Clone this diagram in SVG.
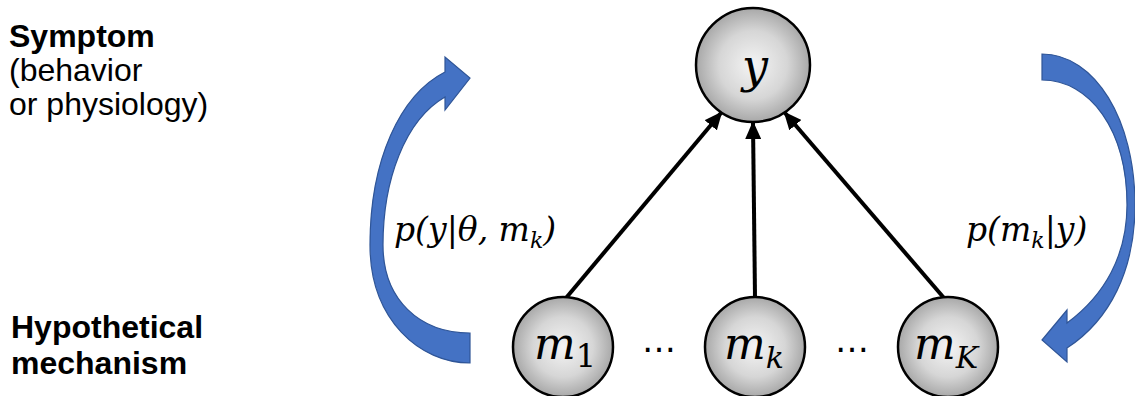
<svg xmlns="http://www.w3.org/2000/svg" width="1135" height="396" viewBox="0 0 1135 396">
<style>
.lbl{font-family:"Liberation Sans",Arial,sans-serif;font-size:32px;fill:#000}
.b{font-weight:bold}
.math{font-family:"DejaVu Serif","Liberation Serif",serif;font-style:italic;fill:#000}
.node{fill:url(#g);stroke:#000;stroke-width:2.5}
.edge{stroke:#000;stroke-width:4;fill:none;marker-end:url(#ah)}
.curve{fill:#4472C4;stroke:#2F5597;stroke-width:1.2}
.dots{font-family:"DejaVu Sans",sans-serif;font-size:34px;fill:#000}
</style>
<defs>
<radialGradient id="g" cx="50%" cy="50%" r="50%">
<stop offset="0" stop-color="#f4f4f4"/>
<stop offset="0.6" stop-color="#d6d6d6"/>
<stop offset="1" stop-color="#a8a8a8"/>
</radialGradient>
<marker id="ah" markerWidth="18" markerHeight="16" refX="16" refY="8" orient="auto" markerUnits="userSpaceOnUse">
<path d="M0,0 L18,8 L0,16 Z" fill="#000"/>
</marker>
</defs>
<text class="lbl b" x="9" y="47">Symptom</text>
<text class="lbl" x="9" y="81">(behavior</text>
<text class="lbl" x="9" y="115">or physiology)</text>
<text class="lbl b" x="11" y="338">Hypothetical</text>
<text class="lbl b" x="11" y="374">mechanism</text>
<g id="curves">
<path class="curve" d="M470,363 C420,363 370,320 370,245 C370,160 400,95 445,72 L445,57 L470,78 L445,110 L445,97 C405,120 383,180 383,245 C383,300 420,333 470,333 Z"/>
<path class="curve" d="M1042,54 C1095,54 1135,120 1135,205 C1135,270 1110,320 1067,348 L1067,362 L1042,340 L1067,310 L1067,323 C1105,295 1127,255 1127,205 C1127,130 1090,80 1042,80 Z"/>
</g>
<text class="math" x="394" y="241" font-size="33">p(y|θ, m<tspan font-size="22" dy="7">k</tspan><tspan dy="-7">)</tspan></text>
<text class="math" x="966" y="241" font-size="33">p(m<tspan font-size="22" dy="7">k</tspan><tspan dy="-7">|y)</tspan></text>
<g id="connectors">
<line class="edge" x1="566" y1="298" x2="721" y2="113"/>
<line class="edge" x1="755" y1="297" x2="753" y2="123"/>
<line class="edge" x1="944" y1="298" x2="785" y2="113"/>
</g>
<g id="node-y">
<circle class="node" cx="753" cy="65" r="57"/>
<text class="math" x="755" y="82" font-size="46" text-anchor="middle">y</text>
</g>
<g id="node-m1">
<circle class="node" cx="563" cy="347" r="50"/>
<text class="math" x="534" y="359" font-size="44">m<tspan font-size="32" dy="8" font-style="normal">1</tspan></text>
</g>
<g id="node-mk">
<circle class="node" cx="755" cy="347" r="50"/>
<text class="math" x="724" y="359" font-size="44">m<tspan font-size="30" dy="9">k</tspan></text>
</g>
<g id="node-mK">
<circle class="node" cx="948" cy="347" r="50"/>
<text class="math" x="914" y="359" font-size="44">m<tspan font-size="30" dy="9">K</tspan></text>
</g>
<text class="dots" x="659" y="352" text-anchor="middle">…</text>
<text class="dots" x="852" y="352" text-anchor="middle">…</text>
</svg>
